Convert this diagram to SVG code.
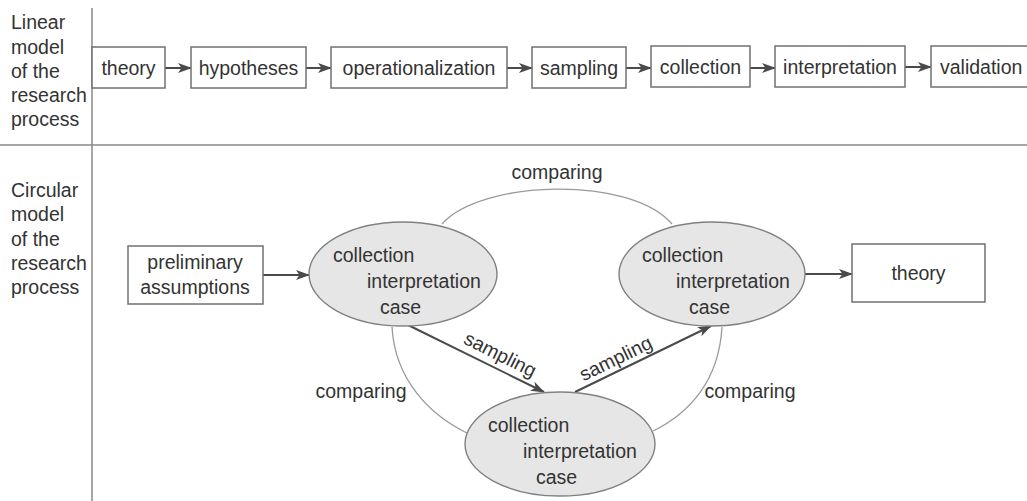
<svg xmlns="http://www.w3.org/2000/svg" width="1027" height="501" viewBox="0 0 1027 501">
<style>
text{font-family:"Liberation Sans",Arial,sans-serif;font-size:19.5px;fill:#333}
.c{text-anchor:middle}
.box{fill:#fff;stroke:#707070;stroke-width:1.5}
.ell{fill:#e6e6e6;stroke:#808080;stroke-width:1.4}
.arr{stroke:#4a4a4a;stroke-width:2;fill:none;marker-end:url(#ah)}
.arc{stroke:#9a9a9a;stroke-width:1.3;fill:none}
.rule{stroke:#888;stroke-width:1.5}
</style>
<defs>
<marker id="ah" markerUnits="userSpaceOnUse" markerWidth="14" markerHeight="10" refX="13" refY="5" orient="auto">
<path d="M0,0 L14,5 L0,10 L3.5,5 z" fill="#4a4a4a"/>
</marker>
</defs>
<rect width="1027" height="501" fill="#fff"/>
<g id="frame">
<line class="rule" x1="92" y1="8" x2="92" y2="501"/>
<line class="rule" x1="0" y1="145" x2="1027" y2="145"/>
</g>
<g id="label-linear">
<text x="11" y="29">Linear</text>
<text x="11" y="54">model</text>
<text x="11" y="78">of the</text>
<text x="11" y="102">research</text>
<text x="11" y="126">process</text>
</g>
<g id="label-circular">
<text x="11" y="197">Circular</text>
<text x="11" y="221">model</text>
<text x="11" y="246">of the</text>
<text x="11" y="270">research</text>
<text x="11" y="294">process</text>
</g>
<g id="connectors">
<line class="arr" x1="165" y1="68" x2="191" y2="68"/>
<line class="arr" x1="306" y1="68" x2="331" y2="68"/>
<line class="arr" x1="507" y1="68" x2="532" y2="68"/>
<line class="arr" x1="626" y1="68" x2="651" y2="68"/>
<line class="arr" x1="750" y1="68" x2="775" y2="68"/>
<line class="arr" x1="905" y1="67" x2="931" y2="67"/>
<line class="arr" x1="263" y1="275" x2="309" y2="275"/>
<line class="arr" x1="805" y1="274" x2="852" y2="274"/>
<line class="arr" x1="408" y1="325" x2="544" y2="392"/>
<line class="arr" x1="575" y1="392" x2="711" y2="326"/>
<path class="arc" d="M442,224 C480,180 630,175 672,224"/>
<path class="arc" d="M392,327 C395,380 430,415 467,433"/>
<path class="arc" d="M722,327 C719,380 690,413 653,431"/>
<text class="c" x="557" y="179">comparing</text>
<text class="c" x="361" y="398">comparing</text>
<text class="c" x="750" y="398">comparing</text>
<text class="c" transform="translate(500,355) rotate(26.5)" y="6">sampling</text>
<text class="c" transform="translate(616,359) rotate(-26)" y="6">sampling</text>
</g>
<g id="n-theory1"><rect class="box" x="92" y="47" width="73" height="41"/><text class="c" x="128.5" y="75">theory</text></g>
<g id="n-hypotheses"><rect class="box" x="191" y="47" width="115" height="41"/><text class="c" x="248.5" y="75">hypotheses</text></g>
<g id="n-operationalization"><rect class="box" x="331" y="47" width="176" height="41"/><text class="c" x="419" y="75">operationalization</text></g>
<g id="n-sampling"><rect class="box" x="532" y="47" width="94" height="41"/><text class="c" x="579" y="75">sampling</text></g>
<g id="n-collection"><rect class="box" x="651" y="46" width="99" height="41"/><text class="c" x="700.5" y="74">collection</text></g>
<g id="n-interpretation"><rect class="box" x="775" y="46" width="130" height="41"/><text class="c" x="840" y="74">interpretation</text></g>
<g id="n-validation"><rect class="box" x="931" y="46" width="110" height="41"/><text x="940" y="74">validation</text></g>
<g id="n-preliminary"><rect class="box" x="128" y="246" width="135" height="58"/><text class="c" x="195" y="269">preliminary</text><text class="c" x="195" y="294">assumptions</text></g>
<g id="n-cycle1"><ellipse class="ell" cx="403" cy="274" rx="94" ry="52"/><text x="333" y="262">collection</text><text x="367" y="288">interpretation</text><text x="380" y="314">case</text></g>
<g id="n-cycle2"><ellipse class="ell" cx="712" cy="274" rx="93" ry="52"/><text x="642" y="262">collection</text><text x="676" y="288">interpretation</text><text x="689" y="314">case</text></g>
<g id="n-cycle3"><ellipse class="ell" cx="560" cy="444" rx="95" ry="52"/><text x="488" y="432">collection</text><text x="523" y="458">interpretation</text><text x="536" y="484">case</text></g>
<g id="n-theory2"><rect class="box" x="852" y="244" width="133" height="58"/><text class="c" x="918.5" y="280">theory</text></g>
</svg>
